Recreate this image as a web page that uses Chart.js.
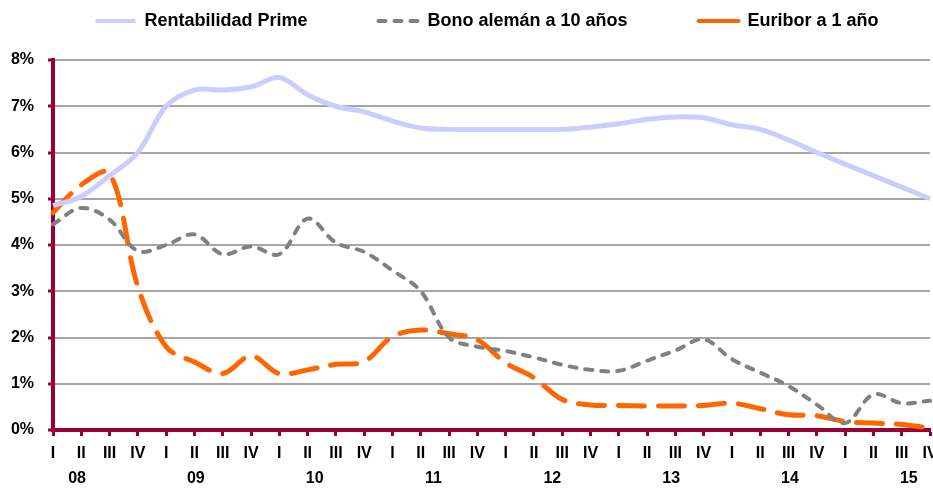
<!DOCTYPE html>
<html>
<head>
<meta charset="utf-8">
<script src="https://cdn.jsdelivr.net/npm/chart.js@4.4.1/dist/chart.umd.min.js"></script>
<style>
  html, body { margin: 0; padding: 0; background: #fff; }
  #wrap { width: 933px; height: 488px; }
</style>
</head>
<body>
<div id="wrap"><canvas id="chart"></canvas></div>
<script>
// quarters 2008 I .. 2015 IV
const quarters = ['I', 'II', 'III', 'IV', 'I', 'II', 'III', 'IV', 'I', 'II', 'III', 'IV', 'I', 'II', 'III', 'IV',
                  'I', 'II', 'III', 'IV', 'I', 'II', 'III', 'IV', 'I', 'II', 'III', 'IV', 'I', 'II', 'III', 'IV'];
const years = ['08', '09', '10', '11', '12', '13', '14', '15'];

const prime = [4.85, 5.05, 5.5, 6.0, 7.0, 7.35, 7.35, 7.42, 7.62, 7.25, 7.0, 6.88, 6.68, 6.53, 6.5, 6.5,
               6.5, 6.5, 6.5, 6.55, 6.62, 6.72, 6.77, 6.75, 6.6, 6.5, 6.27, 6.0, 5.75, 5.5, 5.25, 5.0];
const bono = [4.45, 4.8, 4.55, 3.87, 4.0, 4.23, 3.8, 3.97, 3.8, 4.57, 4.05, 3.85, 3.45, 3.0, 2.0, 1.8,
              1.71, 1.57, 1.41, 1.3, 1.28, 1.5, 1.72, 1.96, 1.53, 1.24, 0.95, 0.55, 0.15, 0.77, 0.58, 0.63];
const euribor = [4.7, 5.3, 5.55, 3.1, 1.8, 1.47, 1.22, 1.6, 1.22, 1.3, 1.42, 1.48, 2.02, 2.16, 2.08, 1.95,
                 1.45, 1.13, 0.66, 0.54, 0.53, 0.52, 0.52, 0.53, 0.58, 0.46, 0.33, 0.31, 0.18, 0.15, 0.12, 0.04];

const crimson = '#990033';

Chart.defaults.font.family = '"Liberation Sans", Arial, sans-serif';
Chart.defaults.font.weight = 'bold';
Chart.defaults.color = '#000';

// legend sits a bit right of centre and close to the top in the original
const legendNudge = {
  id: 'legendNudge',
  afterLayout(chart) {
    const lg = chart.legend;
    lg.left += 22;
    lg.right += 22;
    lg.top -= 59;
  }
};

const ctx = document.getElementById('chart');

new Chart(ctx, {
  type: 'line',
  data: {
    labels: quarters,
    datasets: [
      {
        label: 'Rentabilidad Prime',
        data: prime,
        borderColor: '#CCCCFF',
        borderWidth: 5,
      },
      {
        label: 'Bono alemán a 10 años',
        data: bono,
        borderColor: '#808080',
        borderWidth: 4,
        borderDash: [7, 9],
        borderCapStyle: 'round',
      },
      {
        label: 'Euribor a 1 año',
        data: euribor,
        borderColor: '#FF6600',
        borderWidth: 5,
        borderDash: [26, 14],
        borderCapStyle: 'round',
      },
    ],
  },
  options: {
    responsive: true,
    maintainAspectRatio: false,
    animation: false,
    layout: { padding: { left: 0, right: 3, top: 0, bottom: 0 } },
    elements: {
      point: { radius: 0 },
      line: { tension: 0.35 },
    },
    plugins: {
      tooltip: { enabled: false },
      legend: {
        position: 'top',
        maxHeight: 60,
        labels: {
          usePointStyle: true,
          pointStyle: 'line',
          pointStyleWidth: 40,
          padding: 71,
          color: '#000',
          font: { size: 18, weight: 'bold' },
          generateLabels(chart) {
            const items = Chart.defaults.plugins.legend.labels.generateLabels(chart);
            items.forEach((it, i) => {
              const ds = chart.data.datasets[i];
              it.strokeStyle = ds.borderColor;
              it.lineWidth = 4;
              it.lineCap = ds.borderCapStyle || 'butt';
              it.lineDash = i === 1 ? ds.borderDash : [];
            });
            return items;
          },
        },
      },
    },
    scales: {
      x: {
        type: 'category',
        offset: false,
        weight: 0,
        grid: {
          drawOnChartArea: false,
          drawTicks: true,
          tickLength: 6,
          tickWidth: 3,
          tickColor: crimson,
        },
        border: { color: crimson, width: 4 },
        ticks: { font: { size: 16 }, padding: 8, autoSkip: false, maxRotation: 0 },
        afterFit(s) { s.paddingLeft = 0; s.paddingRight = 0; s.height = 31; },
      },
      years: {
        type: 'linear',
        position: 'bottom',
        weight: 1,
        min: 0,
        max: quarters.length - 1,
        grid: { display: false },
        border: { display: false },
        ticks: {
          font: { size: 16 },
          padding: 0,
          autoSkip: false,
          maxRotation: 0,
          callback: (v, i) => years[i],
        },
        afterBuildTicks(s) { s.ticks = years.map((y, i) => ({ value: 0.85 + 4.2 * i })); },
        afterFit(s) { s.paddingLeft = 0; s.paddingRight = 0; s.height = 27; },
      },
      y: {
        min: 0,
        max: 8,
        ticks: {
          stepSize: 1,
          padding: 14,
          font: { size: 16 },
          callback: v => v + '%',
        },
        grid: {
          color: '#A6A6A6',
          lineWidth: 2,
          tickColor: crimson,
          tickLength: 5,
          tickWidth: 3,
        },
        border: { color: crimson, width: 4 },
        afterFit(s) { s.width = 53; },
      },
    },
  },
  plugins: [legendNudge],
});
</script>
</body>
</html>
